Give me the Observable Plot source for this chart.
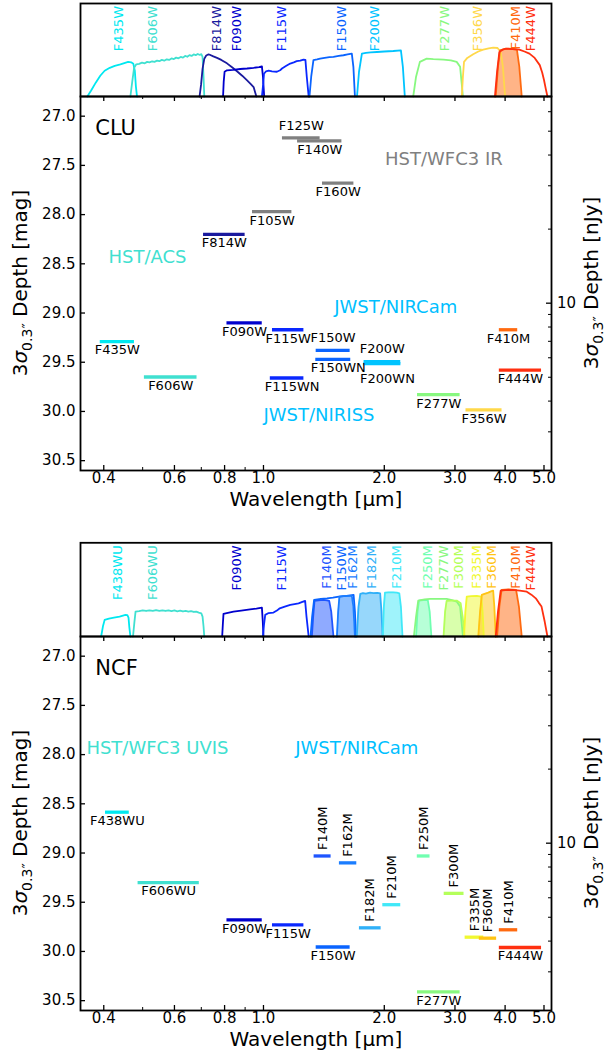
<!DOCTYPE html>
<html><head><meta charset="utf-8">
<script src="https://cdn.jsdelivr.net/npm/d3@7"></script>
<script src="https://cdn.jsdelivr.net/npm/@observablehq/plot@0.6"></script>
<style>
html,body{margin:0;padding:0;background:#fff;overflow:hidden;}
#chart{position:relative;width:606px;height:1063px;font-family:"DejaVu Sans",sans-serif;}
#chart svg{position:absolute;left:0;}
</style></head><body><div id="chart"></div>
<script>
// ---------------- data ----------------
const xDomain = [0.35, 5.22];           // wavelength range [µm]
const yDomain = [26.8, 30.6];           // depth range [mag]
const xMajor = [0.4, 0.6, 0.8, 1, 2, 3, 4, 5];
const xMinor = [0.5, 0.7, 0.9];
const xTickLabels = ["0.4", "0.6", "0.8", "1.0", "2.0", "3.0", "4.0", "5.0"];
const yMajor = [27.0, 27.5, 28.0, 28.5, 29.0, 29.5, 30.0, 30.5];
const fluxMajor = [10];                  // nJy
const fluxMinor = [3, 4, 5, 6, 7, 8, 9, 20, 30, 40, 50, 60];
const ZP = 31.4;                         // AB mag of 1 nJy

const filterColor = {
  F435W: "#00e8f0", F438WU: "#00e8f0", F606W: "#40e0d0", F606WU: "#40e0d0",
  F814W: "#1a1a9e", F090W: "#0000cd", F115W: "#0a28ff", F115WN: "#0a28ff",
  F140M: "#1f55ff", F150W: "#0a64ff", F150WN: "#0a64ff", F162M: "#1a7dff",
  F182M: "#30b0f8", F200W: "#00c4ff", F200WN: "#00c4ff", F210M: "#40e8f8",
  F250M: "#70ffb0", F277W: "#88f880", F300M: "#b4ff5a", F335M: "#f0f830",
  F356W: "#ffd84a", F360M: "#ffc414", F410M: "#ff6a10", F444W: "#ff3010",
  F105W: "#808080", F125W: "#808080", F140W: "#808080", F160W: "#808080"
};

// CLU depths
const cluFilters = ["F435W","F606W","F814W","F105W","F125W","F140W","F160W","F090W","F115W","F150W","F200W","F277W","F356W","F410M","F444W","F115WN","F150WN","F200WN"];
const cluLo      = [0.392, 0.505, 0.709, 0.939, 1.115, 1.216, 1.403, 0.811, 1.053, 1.353, 1.781, 2.42, 3.196, 3.87, 3.87, 1.04, 1.35, 1.78];
const cluHi      = [0.477, 0.683, 0.900, 1.177, 1.384, 1.568, 1.680, 0.993, 1.261, 1.644, 2.198, 3.09, 3.93, 4.30, 4.93, 1.261, 1.65, 2.20];
const cluDepth   = [29.29, 29.65, 28.20, 27.97, 27.22, 27.25, 27.68, 29.10, 29.17, 29.38, 29.495, 29.83, 29.985, 29.17, 29.58, 29.66, 29.47, 29.515];

// NCF depths
const ncfFilters = ["F438WU","F606WU","F090W","F115W","F140M","F150W","F162M","F182M","F210M","F250M","F277W","F300M","F335M","F360M","F410M","F444W"];
const ncfLo      = [0.404, 0.487, 0.811, 1.053, 1.337, 1.353, 1.546, 1.734, 1.983, 2.417, 2.42, 2.82, 3.18, 3.45, 3.87, 3.87];
const ncfHi      = [0.463, 0.692, 0.993, 1.261, 1.474, 1.644, 1.708, 1.964, 2.198, 2.60, 3.09, 3.16, 3.54, 3.81, 4.30, 4.93];
const ncfDepth   = [28.585, 29.30, 29.68, 29.73, 29.03, 29.955, 29.10, 29.76, 29.525, 29.03, 30.41, 29.41, 29.855, 29.865, 29.78, 29.96];

// annotations
const cluNotes = ["CLU", "HST/WFC3 IR", "HST/ACS", "JWST/NIRCam", "JWST/NIRISS"];
const cluNoteWl = [0.381, 2.008, 0.411, 1.50, 1.00];
const cluNoteMag = [27.12, 27.44, 28.43, 28.94, 30.035];
const ncfNotes = ["NCF", "HST/WFC3 UVIS", "JWST/NIRCam"];
const ncfNoteWl = [0.381, 0.362, 1.20];
const ncfNoteMag = [27.125, 27.94, 27.94];

// filter transmission curves [wavelength µm, throughput]
const cluF435W = [[0.364,0],[0.372,0.06],[0.382,0.14],[0.392,0.21],[0.402,0.26],[0.414,0.29],[0.426,0.31],[0.44,0.325],[0.452,0.34],[0.46,0.35],[0.468,0.345],[0.474,0.33],[0.478,0.26],[0.481,0.1],[0.484,0]];
const cluF606W = [[0.466,0],[0.471,0.15],[0.476,0.29],[0.482,0.325],[0.49,0.33],[0.498,0.342],[0.506,0.336],[0.513,0.35],[0.52,0.345],[0.528,0.356],[0.535,0.35],[0.543,0.362],[0.55,0.357],[0.558,0.37],[0.566,0.362],[0.574,0.376],[0.582,0.37],[0.59,0.385],[0.598,0.378],[0.606,0.393],[0.614,0.386],[0.622,0.40],[0.63,0.393],[0.638,0.41],[0.646,0.402],[0.654,0.418],[0.662,0.41],[0.67,0.425],[0.678,0.418],[0.686,0.43],[0.694,0.42],[0.700,0.428],[0.705,0.40],[0.709,0.2],[0.712,0]];
const cluF814W = [[0.693,0],[0.699,0.12],[0.705,0.28],[0.712,0.38],[0.72,0.415],[0.728,0.425],[0.737,0.42],[0.75,0.405],[0.766,0.39],[0.785,0.37],[0.811,0.335],[0.835,0.295],[0.859,0.255],[0.885,0.21],[0.909,0.165],[0.93,0.125],[0.945,0.095],[0.952,0.05],[0.96,0]];
const cluF090W = [[0.793,0],[0.796,0.15],[0.80,0.25],[0.811,0.265],[0.84,0.27],[0.875,0.278],[0.91,0.283],[0.945,0.29],[0.975,0.298],[0.991,0.305],[0.997,0.2],[1.004,0]];
const cluF115W = [[0.991,0],[0.998,0.12],[1.003,0.23],[1.015,0.255],[1.03,0.262],[1.05,0.255],[1.08,0.25],[1.10,0.265],[1.112,0.283],[1.14,0.31],[1.166,0.333],[1.19,0.345],[1.21,0.357],[1.235,0.362],[1.258,0.373],[1.272,0.37],[1.282,0.2],[1.296,0]];
const cluF150W = [[1.302,0],[1.315,0.2],[1.332,0.367],[1.36,0.375],[1.384,0.383],[1.42,0.39],[1.46,0.397],[1.494,0.4],[1.54,0.41],[1.582,0.417],[1.62,0.425],[1.66,0.433],[1.675,0.3],[1.69,0]];
const cluF200W = [[1.71,0],[1.73,0.25],[1.759,0.433],[1.80,0.44],[1.85,0.445],[1.917,0.45],[2.0,0.455],[2.106,0.46],[2.2,0.467],[2.225,0.3],[2.25,0]];
const cluF277W = [[2.361,0],[2.40,0.2],[2.453,0.35],[2.551,0.383],[2.65,0.378],[2.81,0.373],[2.93,0.365],[3.03,0.35],[3.09,0.3],[3.115,0.15],[3.14,0]];
const cluF356W = [[3.12,0],[3.14,0.2],[3.16,0.35],[3.22,0.39],[3.33,0.427],[3.43,0.455],[3.528,0.473],[3.64,0.487],[3.735,0.493],[3.83,0.49],[3.9,0.45],[3.95,0.3],[4.0,0]];
const cluF410M = [[3.79,0],[3.84,0.3],[3.886,0.467],[3.98,0.48],[4.08,0.483],[4.18,0.48],[4.28,0.473],[4.34,0.3],[4.40,0]];
const cluF444W = [[3.773,0],[3.82,0.25],[3.87,0.45],[3.95,0.475],[4.02,0.483],[4.18,0.48],[4.34,0.473],[4.47,0.455],[4.6,0.433],[4.74,0.39],[4.88,0.317],[4.95,0.24],[5.0,0.167],[5.05,0.08],[5.1,0]];

const ncfF438WU = [[0.394,0],[0.398,0.1],[0.402,0.167],[0.412,0.18],[0.424,0.19],[0.438,0.2],[0.453,0.217],[0.458,0.215],[0.461,0.19],[0.463,0.1],[0.466,0]];
const ncfF606WU = [[0.473,0],[0.477,0.15],[0.48,0.25],[0.49,0.255],[0.50,0.262],[0.51,0.256],[0.52,0.263],[0.53,0.257],[0.54,0.264],[0.55,0.257],[0.56,0.263],[0.57,0.256],[0.58,0.262],[0.59,0.255],[0.60,0.261],[0.61,0.253],[0.62,0.259],[0.63,0.251],[0.64,0.257],[0.65,0.249],[0.66,0.254],[0.67,0.246],[0.68,0.25],[0.69,0.24],[0.70,0.232],[0.705,0.2],[0.709,0.1],[0.712,0]];
const ncfF090W = [[0.789,0],[0.792,0.12],[0.795,0.227],[0.81,0.235],[0.842,0.25],[0.88,0.26],[0.926,0.273],[0.96,0.28],[0.991,0.29],[0.996,0.15],[1.0,0]];
const ncfF115W = [[0.997,0],[1.003,0.12],[1.01,0.217],[1.03,0.235],[1.059,0.24],[1.08,0.26],[1.098,0.283],[1.13,0.3],[1.166,0.317],[1.195,0.325],[1.223,0.333],[1.25,0.348],[1.27,0.357],[1.28,0.2],[1.296,0]];
const ncfF140M = [[1.32,0],[1.33,0.2],[1.34,0.357],[1.37,0.362],[1.41,0.367],[1.44,0.362],[1.458,0.357],[1.475,0.25],[1.494,0]];
const ncfF150W = [[1.31,0],[1.322,0.2],[1.337,0.367],[1.39,0.378],[1.44,0.383],[1.49,0.39],[1.54,0.4],[1.61,0.408],[1.677,0.417],[1.69,0.25],[1.70,0]];
const ncfF162M = [[1.524,0],[1.535,0.25],[1.546,0.4],[1.58,0.405],[1.614,0.407],[1.66,0.407],[1.675,0.3],[1.69,0]];
const ncfF182M = [[1.708,0],[1.725,0.3],[1.743,0.427],[1.77,0.435],[1.80,0.43],[1.843,0.44],[1.88,0.435],[1.92,0.438],[1.953,0.433],[1.968,0.25],[1.98,0]];
const ncfF210M = [[1.983,0],[1.995,0.3],[2.008,0.44],[2.05,0.443],[2.106,0.443],[2.15,0.44],[2.18,0.433],[2.2,0.3],[2.22,0]];
const ncfF250M = [[2.40,0],[2.42,0.25],[2.44,0.36],[2.50,0.365],[2.566,0.367],[2.595,0.25],[2.62,0]];
const ncfF277W = [[2.37,0],[2.40,0.2],[2.43,0.36],[2.52,0.372],[2.6,0.377],[2.72,0.378],[2.86,0.377],[2.95,0.365],[3.03,0.35],[3.09,0.3],[3.115,0.15],[3.14,0]];
const ncfF300M = [[2.81,0],[2.835,0.25],[2.86,0.357],[2.95,0.36],[3.03,0.36],[3.1,0.333],[3.135,0.2],[3.17,0]];
const ncfF335M = [[3.16,0],[3.185,0.25],[3.21,0.4],[3.3,0.405],[3.4,0.407],[3.49,0.4],[3.515,0.25],[3.54,0]];
const ncfF360M = [[3.43,0],[3.465,0.25],[3.5,0.417],[3.57,0.43],[3.63,0.44],[3.69,0.452],[3.735,0.46],[3.76,0.3],[3.79,0]];
const ncfF410M = [[3.82,0],[3.87,0.3],[3.92,0.467],[4.0,0.47],[4.08,0.473],[4.18,0.47],[4.26,0.467],[4.33,0.3],[4.40,0]];
const ncfF444W = [[3.79,0],[3.84,0.25],[3.9,0.46],[4.0,0.465],[4.18,0.467],[4.35,0.46],[4.53,0.45],[4.65,0.42],[4.77,0.383],[4.85,0.34],[4.93,0.3],[5.02,0.15],[5.1,0]];

// strip labels and their wavelength positions
const cluStripLabels = ["F435W","F606W","F814W","F090W","F115W","F150W","F200W","F277W","F356W","F410M","F444W"];
const cluStripLabelWl = [0.4236, 0.515, 0.744, 0.835, 1.08, 1.523, 1.843, 2.742, 3.33, 4.127, 4.51];
const ncfStripLabels = ["F438WU","F606WU","F090W","F115W","F140M","F150W","F162M","F182M","F210M","F250M","F277W","F300M","F335M","F360M","F410M","F444W"];
const ncfStripLabelWl = [0.422, 0.515, 0.835, 1.08, 1.398, 1.523, 1.62, 1.804, 2.087, 2.493, 2.729, 2.985, 3.30, 3.60, 4.127, 4.51];

// ---------------- layout ----------------
const W = 606, ML = 80, MR = 55, FW = W - ML - MR;
const FONT = "DejaVu Sans";
const chart = document.getElementById("chart");
const baseStyle = {background: "transparent", overflow: "visible", fontFamily: FONT};

function place(svg, top) {
  svg.style.position = "absolute";
  svg.style.top = top + "px";
  svg.style.left = "0px";
  chart.appendChild(svg);
  return svg;
}

function stripPlot(curves, filled, labels, labelWl, top, marginTop) {
  const rows = curves.flatMap(([name, pts]) => pts.map(([w, t]) => ({name, w, t, color: filterColor[name]})));
  const svg = Plot.plot({
    width: W, height: 97, marginTop, marginBottom: 1, marginLeft: ML, marginRight: MR,
    style: baseStyle,
    x: {type: "log", domain: xDomain, axis: null},
    y: {domain: [0, 0.94], axis: null},
    color: {type: "identity"},
    marks: [
      Plot.areaY(rows.filter(d => filled.includes(d.name)), {x: "w", y: "t", z: "name", fill: "color", fillOpacity: 0.5}),
      Plot.line(rows, {x: "w", y: "t", z: "name", stroke: "color", strokeWidth: 1.8}),
      Plot.text(labels, {x: (d, i) => labelWl[i], text: d => d, fill: d => filterColor[d], rotate: -90, textAnchor: "end", frameAnchor: "top", dy: 2.5, fontSize: 13}),
      Plot.frame({stroke: "black", strokeWidth: 1.8})
    ]
  });
  return place(svg, top);
}

function yLabel(svg, x, y, unit) {
  const t = d3.select(svg).append("text")
    .attr("transform", `translate(${x},${y}) rotate(-90)`)
    .attr("text-anchor", "middle")
    .attr("font-family", FONT).attr("font-size", 20).attr("fill", "black");
  t.append("tspan").text("3");
  t.append("tspan").attr("font-style", "italic").text("σ");
  t.append("tspan").attr("font-size", 14).attr("dy", 5).text("0.3″");
  t.append("tspan").attr("dy", -5).text(" Depth [" + unit + "]");
}

function mainPlot(names, lo, hi, depth, vertical, labelDy, labelDx, notes, noteWl, noteMag, noteColor, noteSize, top, height, marginBottom) {
  const FH = height - 1 - marginBottom;
  const rows = names.map((n, i) => ({name: n, lo: lo[i], hi: hi[i], depth: depth[i], color: filterColor[n]}));
  const labelMarks = rows.map(r => vertical.includes(r.name)
    ? Plot.text([r], {x: d => Math.sqrt(d.lo * d.hi), y: "depth", text: "name", rotate: -90, textAnchor: "start", dy: -6, fontSize: 13})
    : Plot.text([r], {x: d => Math.sqrt(d.lo * d.hi), y: "depth", text: "name", dy: labelDy[r.name] ?? 8.7, dx: labelDx[r.name] ?? 0, fontSize: 13}));
  const mag = f => ZP - 2.5 * Math.log10(f);
  const svg = Plot.plot({
    width: W, height, marginTop: 1, marginBottom, marginLeft: ML, marginRight: MR,
    style: baseStyle,
    x: {type: "log", domain: xDomain, axis: null},
    y: {domain: yDomain, reverse: true, axis: null},
    color: {type: "identity"},
    marks: [
      Plot.ruleY(rows, {y: "depth", x1: "lo", x2: "hi", stroke: "color", strokeWidth: 3.3}),
      ...labelMarks,
      ...notes.map((n, i) => Plot.text([n], {x: () => noteWl[i], y: () => noteMag[i], text: d => d, textAnchor: "start", fill: noteColor[i], fontSize: noteSize[i]})),
      // inward ticks
      Plot.ruleX(xMajor, {x: d => d, insetTop: FH - 5, strokeWidth: 1.3}),
      Plot.ruleX(xMinor, {x: d => d, insetTop: FH - 3, strokeWidth: 1}),
      Plot.ruleX(xMajor, {x: d => d, insetBottom: FH - 5, strokeWidth: 1.3}),
      Plot.ruleX(xMinor, {x: d => d, insetBottom: FH - 3, strokeWidth: 1}),
      Plot.ruleY(yMajor, {y: d => d, insetRight: FW - 5, strokeWidth: 1.3}),
      Plot.ruleY(fluxMajor, {y: mag, insetLeft: FW - 5, strokeWidth: 1.3}),
      Plot.ruleY(fluxMinor.filter(f => mag(f) > yDomain[0] && mag(f) < yDomain[1]), {y: mag, insetLeft: FW - 3, strokeWidth: 1}),
      // tick labels
      Plot.text(xMajor, {x: d => d, text: (d, i) => xTickLabels[i], frameAnchor: "bottom", dy: 12.5, fontSize: 15}),
      Plot.text(yMajor, {y: d => d, text: d => d.toFixed(1), frameAnchor: "left", textAnchor: "end", dx: -5, fontSize: 15}),
      Plot.text(fluxMajor, {y: mag, text: d => String(d), frameAnchor: "right", textAnchor: "start", dx: 5.5, fontSize: 15}),
      Plot.text(["Wavelength [μm]"], {text: d => d, frameAnchor: "bottom", dy: 35.5, fontSize: 20}),
      Plot.frame({stroke: "black", strokeWidth: 1.8})
    ]
  });
  place(svg, top);
  const cy = 1 + FH / 2;
  yLabel(svg, 27, cy, "mag");
  yLabel(svg, 598, cy, "nJy");
  return svg;
}

// ---------------- panels ----------------
stripPlot([
  ["F435W", cluF435W], ["F606W", cluF606W], ["F814W", cluF814W], ["F090W", cluF090W], ["F115W", cluF115W],
  ["F150W", cluF150W], ["F200W", cluF200W], ["F277W", cluF277W], ["F356W", cluF356W], ["F410M", cluF410M], ["F444W", cluF444W]
], ["F410M"], cluStripLabels, cluStripLabelWl, 0, 3);

mainPlot(cluFilters, cluLo, cluHi, cluDepth, [],
  {F125W: -12.5, F150W: -13, F200W: -12.5, F200WN: 15.5},
  {F115WN: 5, F150WN: 5, F200WN: 5},
  cluNotes, cluNoteWl, cluNoteMag,
  ["black", "#808080", "#40e0d0", "#00bfff", "#00bfff"], [21, 18, 18, 18, 18],
  95, 443, 68);

stripPlot([
  ["F438WU", ncfF438WU], ["F606WU", ncfF606WU], ["F090W", ncfF090W], ["F115W", ncfF115W],
  ["F140M", ncfF140M], ["F150W", ncfF150W], ["F162M", ncfF162M], ["F182M", ncfF182M], ["F210M", ncfF210M],
  ["F250M", ncfF250M], ["F277W", ncfF277W], ["F300M", ncfF300M], ["F335M", ncfF335M], ["F360M", ncfF360M],
  ["F410M", ncfF410M], ["F444W", ncfF444W]
], ["F140M","F162M","F182M","F210M","F250M","F300M","F335M","F360M","F410M"], ncfStripLabels, ncfStripLabelWl, 540, 2.3);

mainPlot(ncfFilters, ncfLo, ncfHi, ncfDepth,
  ["F140M","F162M","F182M","F210M","F250M","F300M","F335M","F360M","F410M"],
  {}, {},
  ncfNotes, ncfNoteWl, ncfNoteMag,
  ["black", "#40e0d0", "#00bfff"], [21, 18, 18],
  635, 428, 53);
</script></body></html>
